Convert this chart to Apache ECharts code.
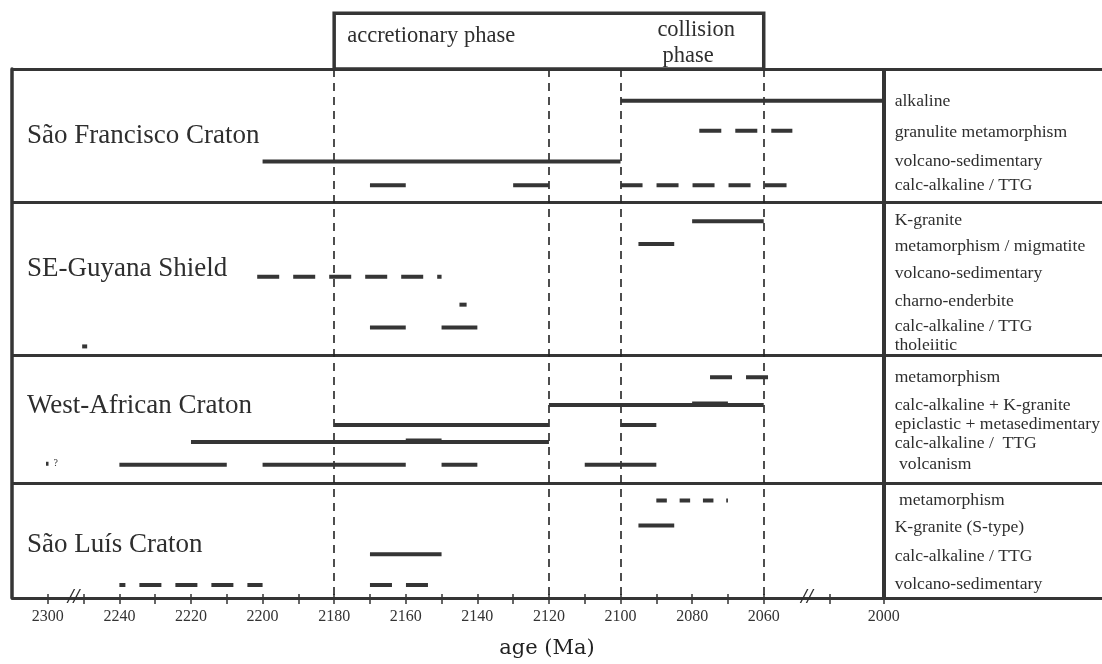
<!DOCTYPE html>
<html><head><meta charset="utf-8">
<script src="https://cdn.jsdelivr.net/npm/echarts@6/dist/echarts.min.js"></script>
<style>html,body{margin:0;padding:0;background:#fff}#c{width:1102px;height:664px}</style>
</head><body><div id="c"></div>
<script>
// ---- data (ages in Ma; track = vertical position of a row, 0 = top of frame) ----
const cratons = ['São Francisco Craton', 'SE-Guyana Shield', 'West-African Craton', 'São Luís Craton'];
const cratonTrack = [67, 201, 339, 479];
const separators = [0, 134, 288, 417, 532];
const phaseBounds = [2180, 2120, 2100, 2060];
const phaseNames = ['accretionary phase', 'collision', 'phase'];
const xTicks = [2300, 2250, 2240, 2230, 2220, 2210, 2200, 2190, 2180, 2170, 2160, 2150, 2140, 2130, 2120, 2110, 2100, 2090, 2080, 2070, 2060, 2015, 2000];
const xLabels = [2300, 2240, 2220, 2200, 2180, 2160, 2140, 2120, 2100, 2080, 2060, 2000];
const rockLabels = ['alkaline', 'granulite metamorphism', 'volcano-sedimentary', 'calc-alkaline / TTG',
  'K-granite', 'metamorphism / migmatite', 'volcano-sedimentary', 'charno-enderbite', 'calc-alkaline / TTG', 'tholeiitic',
  'metamorphism', 'calc-alkaline + K-granite', 'epiclastic + metasedimentary', 'calc-alkaline /  TTG', ' volcanism',
  ' metamorphism', 'K-granite (S-type)', 'calc-alkaline / TTG', 'volcano-sedimentary'];
const rockTrack = [33, 64, 93, 117, 152, 178, 206, 234, 259, 278, 310, 338, 357, 376, 398, 434, 461, 490, 518];
// [start, end, track]
const solidBars = [
  [2100, 2000, 32], [2200, 2100, 93], [2170, 2160, 117], [2130, 2120, 117],
  [2080, 2060, 153], [2095, 2085, 176], [2145, 2143, 237], [2170, 2160, 260], [2150, 2140, 260], [2252, 2249, 279],
  [2120, 2060, 338], [2080, 2070, 336.5], [2180, 2120, 358], [2100, 2090, 358], [2220, 2120, 375], [2160, 2150, 373.5],
  [2240, 2210, 398], [2200, 2160, 398], [2150, 2140, 398], [2110, 2090, 398], [2300.5, 2299, 397],
  [2095, 2085, 459], [2170, 2150, 488]
];
const dashedBars = [
  [2078, 2052, 62], [2100, 2052, 117], [2201.5, 2150, 209], [2075, 2058, 310], [2170, 2153, 519]
];
const dashedLateBars = [[2240, 2200, 519]];
const dottedBars = [[2090, 2070, 434]];
const notes = [[2299, 397, '?']];
const breakMarks = [[2264, 532], [2041.5, 532]];

const INK = '#353535';
const SERIF = '"Liberation Serif", "Times New Roman", serif';

function barSeries(data, dash, width, offset) {
  return {
    type: 'custom', data: data, silent: true, z: 5,
    encode: { x: [0, 1], y: 2 },
    renderItem: function (p, api) {
      const a = api.coord([api.value(0), api.value(2)]);
      const b = api.coord([api.value(1), api.value(2)]);
      return { type: 'line', shape: { x1: a[0], y1: a[1], x2: b[0], y2: b[1] },
        style: { stroke: INK, lineWidth: width, lineDash: dash, lineDashOffset: offset || 0, lineCap: 'butt' } };
    }
  };
}
function textSeries(data, getText, font, dx, align) {
  return {
    type: 'custom', data: data, silent: true, z: 6,
    renderItem: function (p, api) {
      const c = api.coord([api.value(0), api.value(1)]);
      return { type: 'text', x: c[0] + dx, y: c[1],
        style: { text: getText(p.dataIndex), font: font, fill: '#2e2e2e', align: align, verticalAlign: 'middle' } };
    }
  };
}

const chart = echarts.init(document.getElementById('c'));
const hLines = separators.map(v => ({ yAxis: v, lineStyle: { type: 'solid', width: 3, color: INK } }));
const vDash = phaseBounds.map(v => ({ xAxis: v, lineStyle: { type: [8, 6], width: 1.6, color: '#222' } }));
const vRight = [{ xAxis: 2000, lineStyle: { type: 'solid', width: 4, color: INK } }];

const solid = barSeries(solidBars, null, 4);
solid.markLine = { silent: true, symbol: 'none', label: { show: false }, animation: false,
  data: hLines.concat(vDash, vRight) };

const axisBreaks = [{ start: 2250, end: 2300, gap: 10 }, { start: 2015, end: 2050, gap: 8.5 }];
const baseX = {
  type: 'value', inverse: true, min: 1939, max: 2310, position: 'bottom',
  breaks: axisBreaks, breakArea: { show: false }, splitLine: { show: false }
};

chart.setOption({
  animation: false,
  grid: { left: 12, right: 0, top: 69, bottom: 63, containLabel: false },
  xAxis: [
    Object.assign({}, baseX, {
      axisLine: { show: true, onZero: false, lineStyle: { color: INK, width: 3 } },
      axisTick: { show: true, customValues: xTicks, length: 6, lineStyle: { color: INK, width: 1.5 } },
      axisLabel: { show: true, customValues: xLabels, margin: 11, color: '#333', fontFamily: SERIF, fontSize: 16,
        formatter: v => String(v) },
      name: 'age (Ma)', nameLocation: 'middle', nameGap: 40,
      nameTextStyle: { fontFamily: '"DejaVu Serif", serif', fontSize: 21, color: '#222', padding: [0, 20, 0, 0] }
    }),
    Object.assign({}, baseX, {
      axisLine: { show: false, onZero: false },
      axisTick: { show: true, inside: true, customValues: xTicks, length: 4, lineStyle: { color: INK, width: 1.5 } },
      axisLabel: { show: false }
    })
  ],
  yAxis: {
    type: 'value', inverse: true, min: 0, max: 532,
    axisLine: { show: true, onZero: false, lineStyle: { color: INK, width: 3.5 } },
    axisTick: { show: false }, axisLabel: { show: false }, splitLine: { show: false }
  },
  series: [
    solid,
    barSeries(dashedBars, [22, 14], 4),
    barSeries(dashedLateBars, [22, 14], 4, 16),
    barSeries(dottedBars, [10.5, 12.8], 4),
    textSeries(cratonTrack.map(t => [2310, t]), i => cratons[i], '27px ' + SERIF, 15, 'left'),
    textSeries(rockTrack.map(t => [2000, t]), i => rockLabels[i], '17.6px ' + SERIF, 11, 'left'),
    textSeries(notes.map(n => [n[0], n[1]]), i => notes[i][2], '10px ' + SERIF, 5, 'left'),
    textSeries(breakMarks, () => '//', 'italic bold 21px ' + SERIF, 0, 'center'),
    {
      type: 'custom', data: [[phaseBounds[0], phaseBounds[3]]], silent: true, z: 6,
      renderItem: function (p, api) {
        const a = api.coord([phaseBounds[0], -56]);
        const b = api.coord([phaseBounds[3], 0]);
        const c = api.coord([phaseBounds[2], 0]);
        const f = '22.5px ' + SERIF;
        return { type: 'group', children: [
          { type: 'rect', shape: { x: a[0], y: a[1], width: b[0] - a[0], height: b[1] - a[1] },
            style: { fill: 'none', stroke: INK, lineWidth: 3.5 } },
          { type: 'text', x: a[0] + 13, y: a[1] + 23, style: { text: phaseNames[0], font: f, fill: '#2e2e2e', align: 'left', verticalAlign: 'middle' } },
          { type: 'text', x: (c[0] + b[0]) / 2 + 4, y: a[1] + 17, style: { text: phaseNames[1], font: f, fill: '#2e2e2e', align: 'center', verticalAlign: 'middle' } },
          { type: 'text', x: (c[0] + b[0]) / 2 - 4, y: a[1] + 43, style: { text: phaseNames[2], font: f, fill: '#2e2e2e', align: 'center', verticalAlign: 'middle' } }
        ] };
      }
    }
  ]
});
</script></body></html>
